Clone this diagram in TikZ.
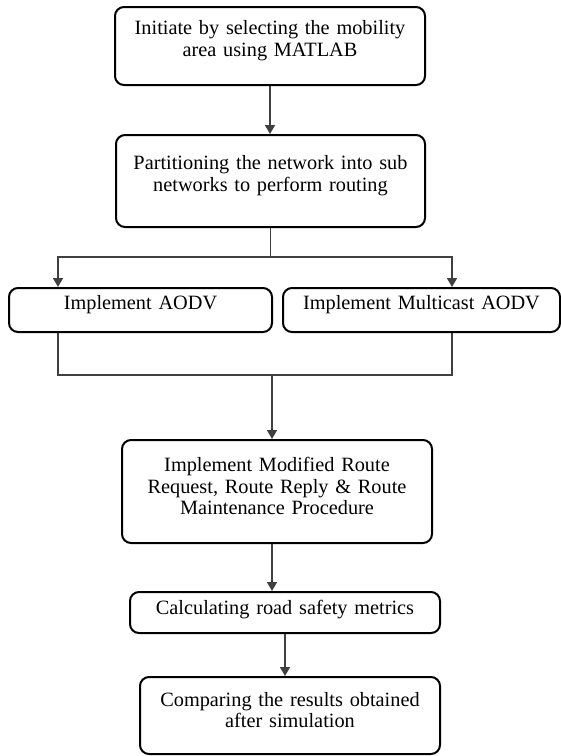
\documentclass[tikz,border=0pt]{standalone}
\usepackage{fontspec}
\setmainfont{Liberation Serif}
\usetikzlibrary{arrows.meta}

\tikzset{
    stepbox/.style={draw, line width=2pt, rounded corners=9pt, inner sep=0pt,
        align=center, font=\fontsize{20.3}{21.5}\selectfont},
    bottompad/.style={execute at end node={\par\vspace{#1}}},
    link/.style={draw=black!75, line width=1.7pt},
    arrow/.style={link, -{Triangle[width=10pt,length=9pt]}}
}

\begin{document}
\begin{tikzpicture}[x=1pt, y=-1pt]
        \useasboundingbox (0,0) rectangle (561,756);

        % Draw the steps
        \node[stepbox, bottompad=11pt, minimum width=310, minimum height=78, text width=300] (init) at (270,46)
            {Initiate by selecting the mobility\\ area using MATLAB};
        \node[stepbox, bottompad=11pt, minimum width=309, minimum height=92, text width=300] (part) at (270.5,181)
            {Partitioning the network into sub\\ networks to perform routing};
        \node[stepbox, bottompad=10pt, minimum width=263, minimum height=44, text width=255] (aodv) at (140.5,310)
            {Implement AODV};
        \node[stepbox, bottompad=10pt, minimum width=277, minimum height=44, text width=270] (mcast) at (421.5,310)
            {Implement Multicast AODV};
        \node[stepbox, bottompad=11pt, minimum width=310, minimum height=103, text width=300] (modif) at (277,491.5)
            {Implement Modified Route\\ Request, Route Reply \& Route\\ Maintenance Procedure};
        \node[stepbox, bottompad=5pt, minimum width=310, minimum height=41, text width=300] (calc) at (285,612.5)
            {Calculating road safety metrics};
        \node[stepbox, bottompad=11pt, minimum width=300, minimum height=77, text width=292] (comp) at (290,715.5)
            {Comparing the results obtained\\ after simulation};

        % Split and merge points
        \coordinate (split) at (270.5,257);
        \coordinate (merge) at (272,375);
        \coordinate (aodvin) at ([xshift=50]aodv.north west);
        \coordinate (aodvout) at ([xshift=50]aodv.south west);
        \coordinate (mcastin) at ([xshift=170]mcast.north west);
        \coordinate (mcastout) at ([xshift=170]mcast.south west);

        % Draw the connectors
        \draw[arrow] (init.south) -- (init.south |- part.north);
        \draw[link] (part.south) -- (split);
        \draw[arrow] (split) -| (aodvin);
        \draw[arrow] (split) -| (mcastin);
        \draw[link] (aodvout) |- (merge) -| (mcastout);
        \draw[arrow] (merge) -- (merge |- modif.north);
        \draw[arrow] (modif.south -| merge) -- (merge |- calc.north);
        \draw[arrow] (calc.south) -- (calc.south |- comp.north);

    \end{tikzpicture}
\end{document}
